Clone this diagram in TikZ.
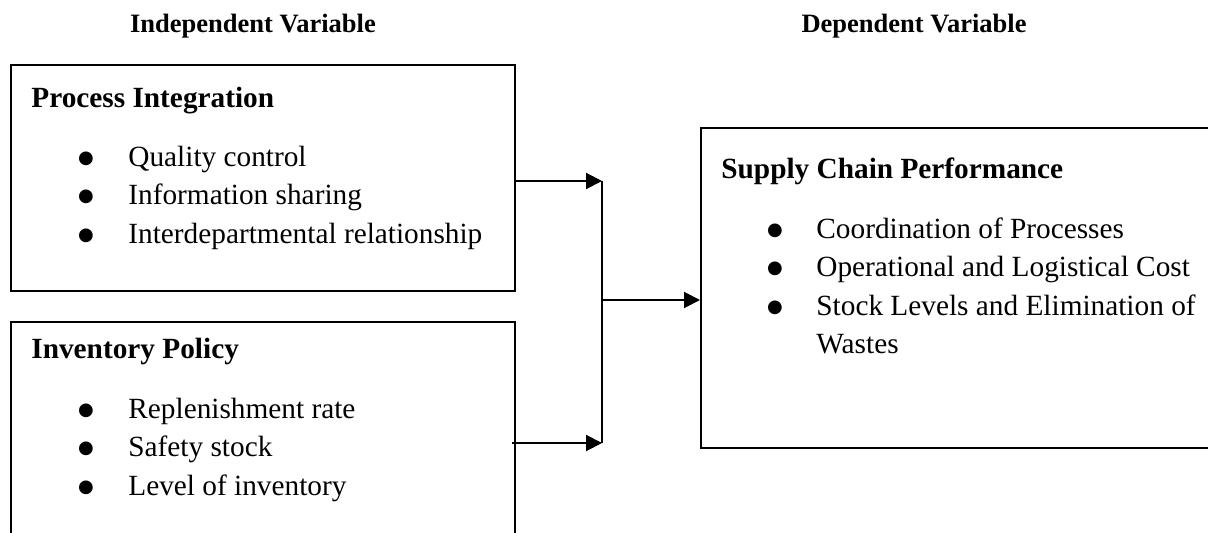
\documentclass[tikz,border=0pt]{standalone}
\usepackage{fontspec}
\setmainfont{Liberation Serif}
\newfontfamily\symfont{DejaVu Sans}
\usetikzlibrary{arrows.meta}
\begin{document}
\begin{tikzpicture}[x=0.5pt,y=-0.5pt,
  box/.style={draw, line width=1pt, inner sep=0pt, anchor=north west},
  hdr/.style={font=\fontsize{13.25pt}{16pt}\selectfont\bfseries, anchor=base, inner sep=0pt},
  ttl/.style={font=\fontsize{14.65pt}{19pt}\selectfont\bfseries, anchor=base west, inner sep=0pt},
  itm/.style={font=\fontsize{14.65pt}{19pt}\selectfont, anchor=base west, inner sep=0pt},
  bul/.style={font=\symfont\fontsize{9pt}{10pt}\selectfont, anchor=base, inner sep=0pt, yshift=1.6pt},
  conn/.style={line width=0.7pt},
  arr/.style={line width=1pt, -{Triangle[length=8pt,width=8pt]}},
]
\useasboundingbox (0,0) rectangle (1208,533);
\clip (0,0) rectangle (1208,533);

% headers
\node[hdr] (hind) at (253,33) {Independent Variable};
\node[hdr] (hdep) at (914,33) {Dependent Variable};

% boxes
\node[box, minimum width=252pt, minimum height=113pt] (pi) at (10,64) {};
\node[box, minimum width=252pt, minimum height=125pt] (ip) at (10,321) {};
\node[box, minimum width=270pt, minimum height=160pt] (sc) at (700,127) {};

% Process Integration
\node[ttl] (pit) at (31,108) {Process Integration};
\node[bul] (pib1) at (86,166.5) {●};
\node[itm] (pi1) at (128,166.5) {Quality control};
\node[bul] (pib2) at (86,205) {●};
\node[itm] (pi2) at (128,205) {Information sharing};
\node[bul] (pib3) at (86,243.5) {●};
\node[itm] (pi3) at (128,243.5) {Interdepartmental relationship};

% Inventory Policy
\node[ttl] (ipt) at (31,359) {Inventory Policy};
\node[bul] (ipb1) at (86,418.5) {●};
\node[itm] (ip1) at (128,418.5) {Replenishment rate};
\node[bul] (ipb2) at (86,457) {●};
\node[itm] (ip2) at (128,457) {Safety stock};
\node[bul] (ipb3) at (86,495.5) {●};
\node[itm] (ip3) at (128,495.5) {Level of inventory};

% Supply Chain Performance
\node[ttl] (sct) at (721,179) {Supply Chain Performance};
\node[bul] (scb1) at (775,238.5) {●};
\node[itm] (sc1) at (816,238.5) {Coordination of Processes};
\node[bul] (scb2) at (775,277) {●};
\node[itm] (sc2) at (816,277) {Operational and Logistical Cost};
\node[bul] (scb3) at (775,315.5) {●};
\node[itm] (sc3) at (816,315.5) {Stock Levels and Elimination of};
\node[itm] (sc3b) at (816,354) {Wastes};

% connectors
\coordinate (j1) at (602,181);
\coordinate (j2) at (602,443);
\coordinate (jm) at (602,300);
\draw[arr] (j1 -| pi.east) -- (j1);
\draw[arr] ([xshift=-2pt]j2 -| ip.east) -- (j2);
\draw[conn] (j1) -- (j2);
\draw[arr] (jm) -- (jm -| sc.west);
\end{tikzpicture}
\end{document}
